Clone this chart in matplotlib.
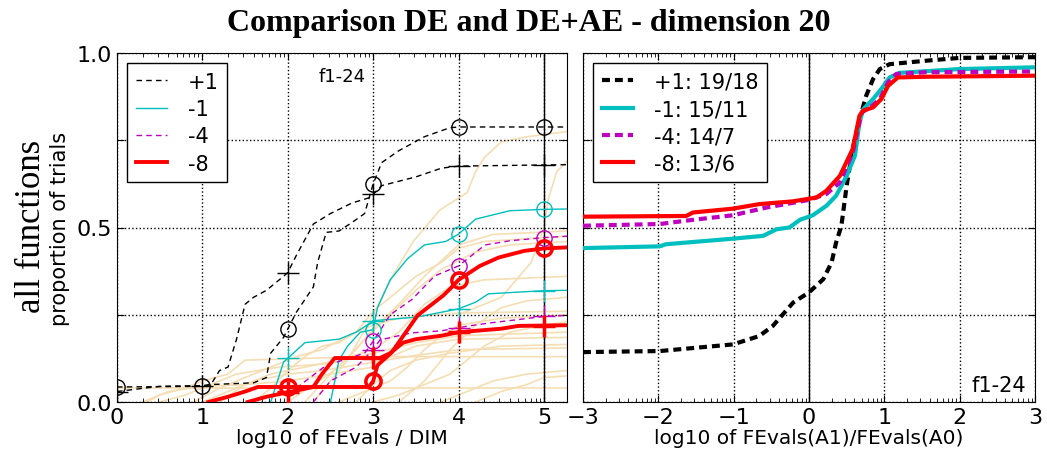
import numpy as np
import matplotlib
matplotlib.use("Agg")
import matplotlib.pyplot as plt

# ---- left panel: ECDF of run lengths per target (log10 of FEvals / DIM) ----
# each target has two curves: A0 (circle markers) and A1 (plus markers)
black_a0_x = [0.0, 1.0, 1.1, 1.6, 1.75, 1.8, 1.95, 2.1, 2.3, 2.35, 2.45, 2.6, 2.75, 2.9, 3.0, 3.1, 3.3, 3.6, 3.9, 4.0, 5.27]
black_a0_y = [0.043, 0.045, 0.05, 0.055, 0.07, 0.14, 0.185, 0.257, 0.33, 0.40, 0.486, 0.49, 0.514, 0.54, 0.625, 0.686, 0.72, 0.76, 0.786, 0.788, 0.788]
black_a1_x = [0.0, 0.5, 1.0, 1.1, 1.2, 1.3, 1.4, 1.5, 1.6, 1.75, 1.95, 2.0, 2.1, 2.3, 2.5, 2.75, 2.95, 3.0, 3.1, 3.5, 3.8, 4.0, 5.27]
black_a1_y = [0.03, 0.045, 0.047, 0.05, 0.09, 0.10, 0.18, 0.28, 0.30, 0.32, 0.36, 0.371, 0.42, 0.51, 0.54, 0.57, 0.585, 0.595, 0.62, 0.645, 0.67, 0.676, 0.68]

cyan_a0_x = [2.5, 2.6, 2.7, 2.85, 3.0, 3.05, 3.2, 3.4, 3.6, 3.85, 4.0, 4.2, 4.6, 5.0, 5.27]
cyan_a0_y = [0.0, 0.12, 0.16, 0.2, 0.207, 0.27, 0.35, 0.41, 0.45, 0.46, 0.481, 0.524, 0.548, 0.552, 0.553]
cyan_a1_x = [1.8, 1.95, 2.2, 2.6, 2.8, 2.95, 3.0, 3.5, 3.9, 4.0, 4.2, 4.35, 5.0, 5.27]
cyan_a1_y = [0.0, 0.114, 0.17, 0.18, 0.2, 0.224, 0.233, 0.243, 0.262, 0.267, 0.286, 0.31, 0.319, 0.32]

magenta_a0_x = [2.1, 2.45, 2.7, 2.9, 3.0, 3.2, 3.45, 3.72, 4.0, 4.31, 4.6, 5.0, 5.27]
magenta_a0_y = [0.04, 0.105, 0.124, 0.14, 0.174, 0.25, 0.293, 0.361, 0.39, 0.45, 0.462, 0.471, 0.475]
magenta_a1_x = [2.3, 2.5, 2.8, 3.0, 3.08, 3.45, 3.8, 4.12, 4.35, 5.0, 5.27]
magenta_a1_y = [0.0, 0.06, 0.1, 0.15, 0.178, 0.198, 0.204, 0.218, 0.226, 0.245, 0.248]

red_a0_x = [1.07, 1.3, 1.5, 1.65, 2.95, 3.0, 3.05, 3.22, 3.52, 3.82, 3.9, 4.0, 4.25, 4.47, 4.77, 5.0, 5.27]
red_a0_y = [0.0, 0.015, 0.03, 0.043, 0.043, 0.06, 0.105, 0.143, 0.248, 0.305, 0.324, 0.35, 0.39, 0.414, 0.433, 0.44, 0.443]
red_a1_x = [1.53, 1.75, 2.3, 2.4, 2.55, 3.08, 3.2, 3.35, 3.5, 3.8, 4.0, 4.5, 4.7, 5.27]
red_a1_y = [0.0, 0.015, 0.043, 0.08, 0.126, 0.126, 0.14, 0.17, 0.18, 0.19, 0.2, 0.21, 0.218, 0.22]

# single-function ECDFs drawn in the background
bg_curves = [
    ([0.35, 0.5, 0.8, 1.0, 1.3, 1.5, 2.2, 3.0, 5.27], [0.0, 0.02, 0.04, 0.06, 0.08, 0.12, 0.125, 0.13, 0.13]),
    ([0.3, 0.6, 1.0, 1.5, 2.0, 2.5, 3.0, 3.2, 3.5, 4.0, 5.27], [0.0, 0.03, 0.045, 0.05, 0.06, 0.08, 0.1, 0.13, 0.16, 0.18, 0.185]),
    ([0.9, 1.2, 1.5, 1.8, 2.1, 2.4, 2.8, 3.0, 3.3, 4.0, 5.27], [0.0, 0.04, 0.07, 0.1, 0.13, 0.15, 0.2, 0.22, 0.24, 0.255, 0.26]),
    ([1.6, 1.8, 2.0, 2.2, 2.4, 2.6, 2.8, 3.0, 3.2, 3.5, 3.8, 4.0, 4.3, 5.27], [0.0, 0.04, 0.09, 0.13, 0.16, 0.17, 0.2, 0.26, 0.3, 0.36, 0.4, 0.44, 0.46, 0.475]),
    ([2.3, 2.7, 3.0, 3.2, 3.47, 3.78, 4.1, 4.2, 4.3, 4.5, 4.8, 5.27], [0.0, 0.12, 0.25, 0.35, 0.46, 0.55, 0.6, 0.66, 0.7, 0.745, 0.76, 0.775]),
    ([4.0, 4.5, 4.85, 5.0, 5.05, 5.15, 5.27], [0.25, 0.3, 0.4, 0.5, 0.58, 0.66, 0.69]),
    ([2.0, 2.3, 2.6, 2.9, 3.2, 3.5, 3.8, 4.2, 4.6, 5.27], [0.0, 0.05, 0.1, 0.18, 0.25, 0.32, 0.38, 0.43, 0.45, 0.46]),
    ([2.6, 2.9, 3.2, 3.4, 3.6, 3.8, 4.0, 4.5, 5.27], [0.0, 0.03, 0.06, 0.1, 0.15, 0.19, 0.22, 0.24, 0.25]),
    ([3.0, 3.3, 3.6, 3.9, 4.1, 4.3, 4.6, 5.0, 5.27], [0.0, 0.02, 0.05, 0.08, 0.12, 0.16, 0.2, 0.22, 0.23]),
    ([3.8, 4.1, 4.4, 4.8, 5.27], [0.0, 0.03, 0.06, 0.08, 0.09]),
    ([0.0, 5.27], [0.04, 0.04]),
    ([1.2, 1.5, 1.8, 2.2, 2.6, 3.0, 3.3, 3.6, 3.9, 4.3, 5.27], [0.0, 0.05, 0.08, 0.1, 0.12, 0.15, 0.2, 0.28, 0.33, 0.35, 0.36]),
    ([2.2, 2.5, 2.8, 3.0, 3.3, 3.6, 4.0, 4.4, 5.27], [0.0, 0.08, 0.15, 0.21, 0.28, 0.36, 0.45, 0.48, 0.49]),
    ([0.5, 0.8, 1.1, 1.4, 1.9, 2.5, 3.0, 3.5, 4.0, 5.27], [0.0, 0.02, 0.05, 0.08, 0.1, 0.11, 0.14, 0.17, 0.19, 0.2]),
    ([2.8, 3.0, 3.2, 3.5, 3.9, 4.5, 5.27], [0.0, 0.05, 0.09, 0.12, 0.14, 0.16, 0.165]),
    ([1.0, 1.3, 1.6, 2.0, 2.4, 2.9, 3.4, 4.0, 5.27], [0.0, 0.03, 0.06, 0.08, 0.09, 0.11, 0.13, 0.15, 0.155]),
    ([3.3, 3.6, 3.9, 4.2, 4.5, 4.8, 5.27], [0.0, 0.06, 0.15, 0.22, 0.27, 0.29, 0.3]),
    ([4.2, 4.5, 4.8, 5.0, 5.27], [0.0, 0.03, 0.05, 0.07, 0.075]),
]

# ---- right panel: ECDF of log10 run-length ratios ----
r_black_x = [-3.0, -1.98, -1.01, -0.66, -0.48, -0.21, 0.0, 0.19, 0.3, 0.36, 0.43, 0.5, 0.58, 0.67, 0.76, 0.85, 0.94, 1.07, 1.56, 2.0, 3.0]
r_black_y = [0.143, 0.146, 0.165, 0.189, 0.218, 0.285, 0.314, 0.352, 0.40, 0.457, 0.505, 0.62, 0.725, 0.81, 0.878, 0.925, 0.954, 0.968, 0.978, 0.986, 0.988]
r_cyan_x = [-3.0, -1.98, -1.9, -1.01, -0.61, -0.43, -0.26, -0.12, 0.05, 0.23, 0.36, 0.5, 0.61, 0.67, 0.72, 0.85, 0.96, 1.07, 1.2, 2.0, 3.0]
r_cyan_y = [0.441, 0.446, 0.452, 0.468, 0.476, 0.495, 0.50, 0.522, 0.535, 0.562, 0.591, 0.648, 0.706, 0.801, 0.839, 0.868, 0.897, 0.93, 0.943, 0.954, 0.959]
r_magenta_x = [-3.0, -1.98, -1.54, -1.01, -0.57, 0.0, 0.23, 0.41, 0.58, 0.70, 0.81, 0.94, 1.05, 1.16, 1.56, 3.0]
r_magenta_y = [0.505, 0.51, 0.522, 0.535, 0.557, 0.579, 0.596, 0.629, 0.715, 0.83, 0.844, 0.868, 0.916, 0.94, 0.945, 0.947]
r_red_x = [-3.0, -1.63, -1.54, -1.01, -0.66, -0.21, 0.1, 0.23, 0.41, 0.58, 0.67, 0.72, 0.85, 0.96, 1.05, 1.18, 1.56, 3.0]
r_red_y = [0.531, 0.533, 0.543, 0.554, 0.567, 0.575, 0.586, 0.605, 0.648, 0.725, 0.82, 0.835, 0.844, 0.868, 0.906, 0.93, 0.932, 0.935]

target_labels = ["+1", "-1", "-4", "-8"]
ratio_labels = ["+1: 19/18", "-1: 15/11", "-4: 14/7", "-8: 13/6"]

plt.rcParams["font.family"] = "DejaVu Sans"
plt.rcParams["xtick.direction"] = "in"
plt.rcParams["ytick.direction"] = "in"

fig = plt.figure(figsize=(10.47, 4.52), dpi=100)
ax1 = fig.add_axes([117 / 1047, 49 / 452, 450 / 1047, 349 / 452])
ax2 = fig.add_axes([583 / 1047, 49 / 452, 452 / 1047, 349 / 452])

wheat = "#f5deb3"
for bx, by in bg_curves:
    ax1.plot(bx, by, color=wheat, lw=1.2, zorder=1)

dash_thin = (0, (4, 3))
left_series = [
    (black_a0_x, black_a0_y, black_a1_x, black_a1_y, "k", dash_thin, 1.0),
    (cyan_a0_x, cyan_a0_y, cyan_a1_x, cyan_a1_y, "c", "-", 1.0),
    (magenta_a0_x, magenta_a0_y, magenta_a1_x, magenta_a1_y, "m", dash_thin, 1.0),
    (red_a0_x, red_a0_y, red_a1_x, red_a1_y, "r", "-", 2.8),
]
handles = []
for (x0, y0, x1, y1, col, ls, lw), lab in zip(left_series, target_labels):
    h, = ax1.plot(x0, y0, color=col, ls=ls, lw=lw, zorder=3, label=lab)
    ax1.plot(x1, y1, color=col, ls=ls, lw=lw, zorder=3)
    mew = 2.5 if lw > 2 else 1.0
    # markers at whole decades along each curve
    xm0 = np.arange(np.ceil(x0[0]), 6)
    ax1.plot(xm0, np.interp(xm0, x0, y0), ls="none", marker="o", ms=11,
             mfc="none", mec=col, mew=mew, zorder=4)
    xm1 = np.arange(np.ceil(x1[0]), 6)
    ax1.plot(xm1, np.interp(xm1, x1, y1), ls="none", marker="+", ms=16,
             mec=col, mew=mew, zorder=4)
    handles.append(h)

ax1.axvline(5, color="k", lw=1, zorder=2)
ax1.set_xlim(0, 5.27)
ax1.set_ylim(0, 1)
ax1.set_xticks(range(6))
minor1 = [i + np.log10(k) for i in range(6) for k in range(2, 10) if i + np.log10(k) < 5.27]
ax1.set_xticks(minor1, minor=True)
ax1.set_yticks([0, 0.25, 0.5, 0.75, 1.0])
ax1.set_yticklabels(["0.0", "", "0.5", "", "1.0"])
ax1.grid(True, which="major", ls=":", color="k", lw=1)
ax1.tick_params(which="both", top=True, right=True, labelsize=16)
ax1.tick_params(which="major", length=5)
ax1.tick_params(which="minor", length=3)
ax1.set_xlabel("log10 of FEvals / DIM", fontsize=14.5, labelpad=1)
ax1.set_ylabel("proportion of trials", fontsize=15, labelpad=5)
ax1.text(0.5, 0.96, "f1-24", transform=ax1.transAxes, ha="center", va="top", fontsize=13)
leg1 = ax1.legend(handles=handles, loc="upper left", fontsize=15, fancybox=False,
                  edgecolor="k", framealpha=1, handlelength=1.5, handletextpad=1.0,
                  borderaxespad=0.5, labelspacing=0.35)
leg1.get_frame().set_linewidth(1)

right_series = [
    (r_black_x, r_black_y, "k", (0, (1.9, 1.2))),
    (r_cyan_x, r_cyan_y, "c", "-"),
    (r_magenta_x, r_magenta_y, "m", (0, (1.9, 1.2))),
    (r_red_x, r_red_y, "r", "-"),
]
for (rx, ry, col, ls), lab in zip(right_series, ratio_labels):
    ax2.plot(rx, ry, color=col, ls=ls, lw=3, label=lab, zorder=3)

ax2.axvline(0, color="k", lw=1, zorder=2)
ax2.set_xlim(-3, 3)
ax2.set_ylim(0, 1)
ax2.set_xticks(range(-3, 4))
minor2 = [i + np.log10(k) for i in range(-3, 3) for k in range(2, 10)]
ax2.set_xticks(minor2, minor=True)
ax2.set_yticks([0, 0.25, 0.5, 0.75, 1.0])
ax2.set_yticklabels([])
ax2.grid(True, which="major", ls=":", color="k", lw=1)
ax2.tick_params(which="both", top=True, right=True, labelsize=16)
ax2.tick_params(which="major", length=5)
ax2.tick_params(which="minor", length=3)
ax2.set_xlabel("log10 of FEvals(A1)/FEvals(A0)", fontsize=14.5, labelpad=1)
ax2.text(0.98, 0.02, "f1-24", transform=ax2.transAxes, ha="right", va="bottom", fontsize=15)
leg2 = ax2.legend(loc="upper left", fontsize=15, fancybox=False, edgecolor="k",
                  framealpha=1, handlelength=1.5, handletextpad=1.0,
                  borderaxespad=0.5, labelspacing=0.35)
leg2.get_frame().set_linewidth(1)

fig.text(0.505, 0.948, "Comparison DE and DE+AE - dimension 20", ha="center", va="center",
         fontsize=23, fontweight="bold", family="Liberation Serif")
fig.text(0.03, 0.5, "all functions", rotation=90, ha="center", va="center",
         fontsize=25, family="Liberation Serif")

fig.savefig("out.png", dpi=100)
